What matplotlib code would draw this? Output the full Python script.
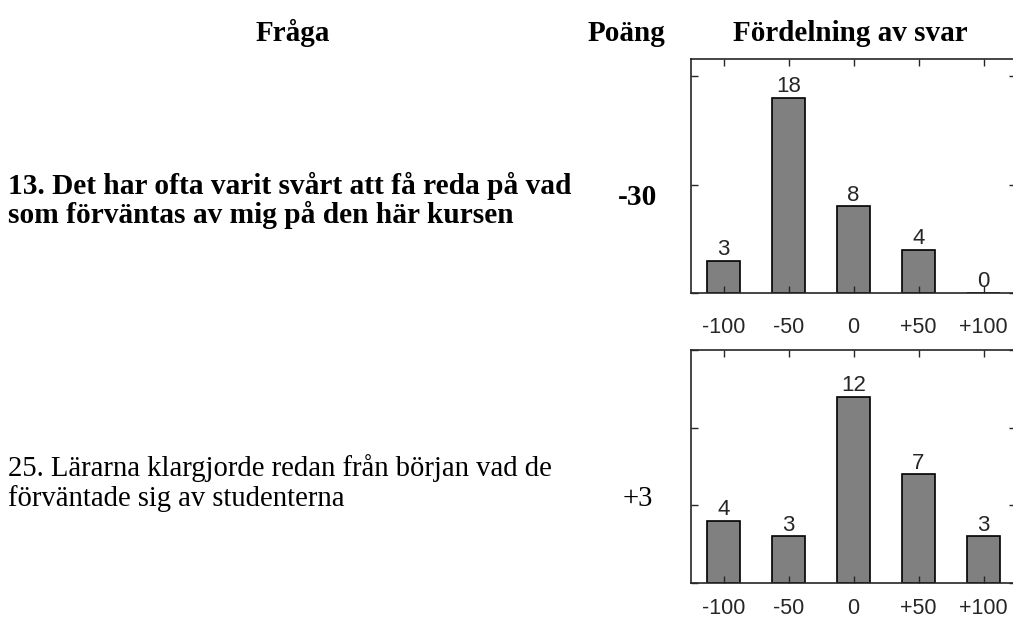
import numpy as np
import matplotlib.pyplot as plt

# %% data
kategorier = ["-100", "-50", "0", "+50", "+100"]
fraga_13   = "13. Det har ofta varit svårt att få reda på vad\nsom förväntas av mig på den här kursen"
fraga_25   = "25. Lärarna klargjorde redan från början vad de\nförväntade sig av studenterna"
poang      = ["-30", "+3"]
svar_13    = [3, 18, 8, 4, 0]
svar_25    = [4, 3, 12, 7, 3]
ymax       = [21.6, 15]
yticks     = [[0, 10, 20], [0, 5, 10, 15]]

W, H = 1013, 625
SERIF = ["Liberation Serif", "DejaVu Serif"]
SANS  = ["Liberation Sans", "DejaVu Sans"]

fig = plt.figure(figsize=(W / 100, H / 100), dpi=100)


def fx(px):
    return px / W


def fy(py):
    return 1 - py / H


# --- encabezados ---
for txt, x in [("Fråga", 293), ("Poäng", 626), ("Fördelning av svar", 850)]:
    fig.text(fx(x), fy(41), txt, ha="center", va="baseline",
             family=SERIF, fontsize=21, fontweight="bold")

# --- preguntas y puntos ---
filas = [
    (fraga_13, poang[0], "bold", (194, 223), 205, 21.2),
    (fraga_25, poang[1], "normal", (476, 506), 506, 20.6),
]
for texto, p, peso, baselines, y_p, fs in filas:
    for linea, yb in zip(texto.split("\n"), baselines):
        fig.text(fx(8), fy(yb), linea, ha="left", va="baseline",
                 family=SERIF, fontsize=fs, fontweight=peso)
    fig.text(fx(638), fy(y_p), p, ha="center", va="baseline",
             family=SERIF, fontsize=fs, fontweight=peso)

# --- histogramas ---
ejes = [(59, 293, svar_13, 17), (350, 583, svar_25, 10.5)]
x = np.arange(1, len(kategorier) + 1)
for i, (top, bot, vals, pad) in enumerate(ejes):
    ax = fig.add_axes([fx(691), fy(bot), fx(1016) - fx(691), (bot - top) / H])
    ax.bar(x, vals, width=0.5, color="#808080", edgecolor="black", linewidth=1.2)
    for xi, v in zip(x, vals):
        ax.annotate(str(v), (xi, v), textcoords="offset points", xytext=(0, 4),
                    ha="center", va="baseline", family=SANS, fontsize=16,
                    color="#262626")
    ax.set_xlim(0.5, 5.5)
    ax.set_ylim(0, ymax[i])
    ax.set_xticks(x)
    ax.set_xticklabels(kategorier, family=SANS, fontsize=15.5, color="#262626")
    ax.set_yticks(yticks[i])
    ax.set_yticklabels([])
    ax.tick_params(direction="in", length=5, width=1, color="#262626",
                   top=True, right=True, bottom=True, left=True)
    ax.tick_params(axis="x", pad=pad)
    for s in ax.spines.values():
        s.set_linewidth(1.2)
        s.set_color("#262626")

fig.savefig("out.png", dpi=100, facecolor="white")
